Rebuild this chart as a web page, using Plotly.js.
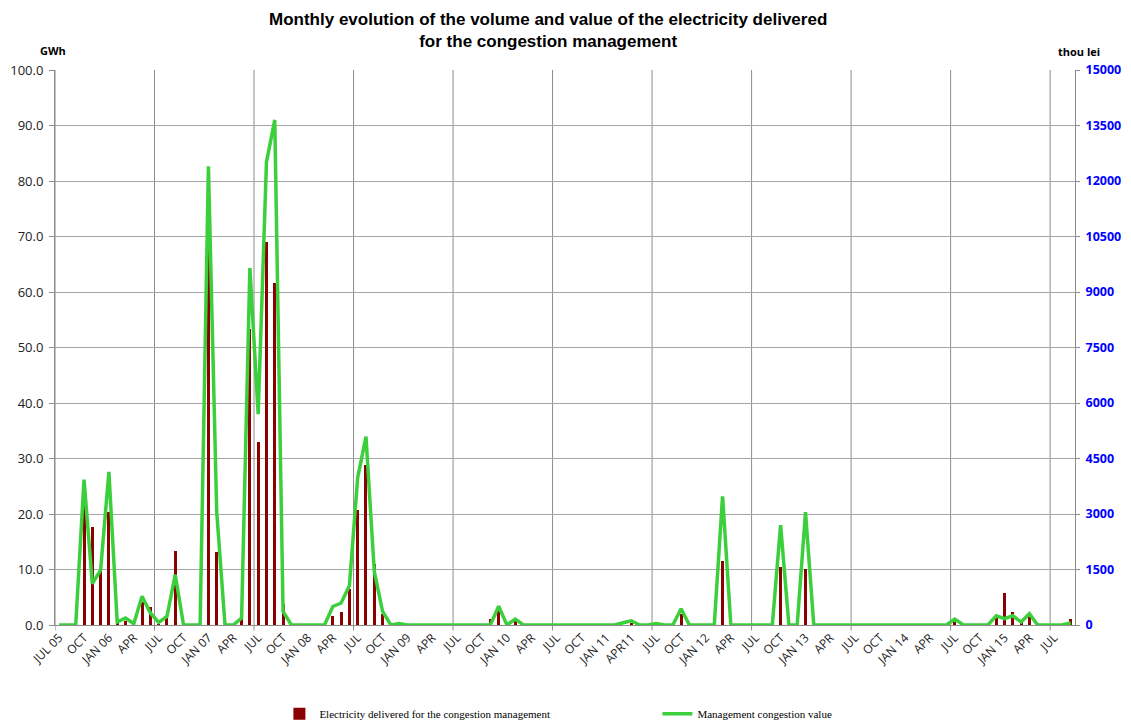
<!DOCTYPE html>
<html>
<head>
<meta charset="utf-8">
<script src="https://cdn.plot.ly/plotly-3.0.1.min.js"></script>
<style>
  html, body { margin: 0; padding: 0; background: #ffffff; }
  #chart { width: 1131px; height: 720px; }
</style>
</head>
<body>
<div id="chart"></div>
<script>
// Monthly data, July 2005 .. September 2015 (123 months)
const firstMonth = "JUL 05";
const lastMonth = "SEP 15";

// Electricity delivered for the congestion management (GWh)
const energyGWh = [
  0, 0, 0, 22.0, 17.6, 9.7,            // Jul05 - Dec05
  20.3, 0.4, 0.8, 0, 4.1, 3.2,          // Jan06 - Jun06
  0.2, 1.3, 13.4, 0, 0.1, 0,            // Jul06 - Dec06
  68.2, 13.2, 0, 0, 1.1, 53.4,          // Jan07 - Jun07
  33.0, 69.1, 61.6, 3.7, 0.1, 0,        // Jul07 - Dec07
  0.1, 0, 0, 1.7, 2.3, 6.4,             // Jan08 - Jun08
  20.8, 28.9, 11.0, 1.9, 0, 0.1,        // Jul08 - Dec08
  0, 0, 0.1, 0, 0.1, 0,                 // Jan09 - Jun09
  0, 0, 0, 0, 1.1, 2.5,                 // Jul09 - Dec09
  0, 0.8, 0, 0, 0, 0,                   // Jan10 - Jun10
  0, 0, 0, 0, 0, 0,                     // Jul10 - Dec10
  0, 0, 0, 0.3, 0, 0,                   // Jan11 - Jun11
  0, 0, 0, 1.9, 0, 0,                   // Jul11 - Dec11
  0, 0, 11.5, 0, 0, 0,                  // Jan12 - Jun12
  0, 0, 0, 10.5, 0, 0,                  // Jul12 - Dec12
  10.1, 0, 0, 0, 0, 0,                  // Jan13 - Jun13
  0, 0, 0, 0, 0, 0,                     // Jul13 - Dec13
  0, 0, 0, 0, 0, 0,                     // Jan14 - Jun14
  0.8, 0, 0.1, 0, 0, 1.4,               // Jul14 - Dec14
  5.8, 2.3, 0.6, 1.7, 0, 0.1,           // Jan15 - Jun15
  0, 0, 1.0                             // Jul15 - Sep15
];

// Management congestion value (thou lei)
const valueThouLei = [
  0, 0, 0, 3930, 1120, 1480,            // Jul05 - Dec05
  4140, 80, 190, 35, 775, 325,          // Jan06 - Jun06
  70, 230, 1360, 0, 0, 0,               // Jul06 - Dec06
  12400, 3060, 0, 0, 190, 9650,         // Jan07 - Jun07
  5700, 12510, 13650, 370, 0, 0,        // Jul07 - Dec07
  0, 0, 0, 500, 595, 1060,              // Jan08 - Jun08
  3980, 5090, 1450, 370, 0, 40,         // Jul08 - Dec08
  0, 0, 0, 0, 0, 0,                     // Jan09 - Jun09
  0, 0, 0, 0, 0, 505,                   // Jul09 - Dec09
  0, 160, 0, 0, 0, 0,                   // Jan10 - Jun10
  0, 0, 0, 0, 0, 0,                     // Jul10 - Dec10
  0, 0, 60, 115, 0, 0,                  // Jan11 - Jun11
  40, 0, 0, 440, 0, 0,                  // Jul11 - Dec11
  0, 0, 3480, 0, 0, 0,                  // Jan12 - Jun12
  0, 0, 0, 2700, 0, 0,                  // Jul12 - Dec12
  3050, 0, 0, 0, 0, 0,                  // Jan13 - Jun13
  0, 0, 0, 0, 0, 0,                     // Jul13 - Dec13
  0, 0, 0, 0, 0, 0,                     // Jan14 - Jun14
  160, 10, 0, 0, 0, 250,                // Jul14 - Dec14
  170, 250, 80, 305, 0, 0,              // Jan15 - Jun15
  0, 10, 55                             // Jul15 - Sep15
];

// Quarterly tick labels (every 3rd month starting Jul 05)
const tickLabels = [
  "JUL 05", "OCT", "JAN 06", "APR", "JUL", "OCT", "JAN 07", "APR", "JUL", "OCT",
  "JAN 08", "APR", "JUL", "OCT", "JAN 09", "APR", "JUL", "OCT", "JAN 10", "APR",
  "JUL", "OCT", "JAN 11", "APR11", "JUL", "OCT", "JAN 12", "APR", "JUL", "OCT",
  "JAN 13", "APR", "JUL", "OCT", "JAN 14", "APR", "JUL", "OCT", "JAN 15", "APR", "JUL"
];

const seriesNames = [
  "Electricity delivered for the congestion management",
  "Management congestion value"
];

const chartTitle = "Monthly evolution of the volume and value of the electricity delivered<br>for the congestion management";

// ---------- build ----------
const n = energyGWh.length;
const xIdx = energyGWh.map((_, i) => i);
const tickVals = tickLabels.map((_, k) => k * 3);

// yearly vertical gridlines at category boundaries before each JUL
const shapes = [];
for (let b = -0.5; b < n - 0.5; b += 12) {
  shapes.push({
    type: "line", xref: "x", yref: "paper",
    x0: b, x1: b, y0: -0.01, y1: 1,
    line: { color: "#8c8c8c", width: 1 },
    layer: "below"
  });
}

const traces = [
  {
    type: "bar",
    name: seriesNames[0],
    x: xIdx,
    y: energyGWh,
    width: 0.36,
    marker: { color: "#8b0000" },
    yaxis: "y",
    hoverinfo: "y"
  },
  {
    type: "scatter",
    mode: "lines",
    name: seriesNames[1],
    x: xIdx,
    y: valueThouLei,
    line: { color: "#3ccf3c", width: 3.5 },
    yaxis: "y2",
    hoverinfo: "y"
  }
];

const layout = {
  width: 1131,
  height: 720,
  paper_bgcolor: "#ffffff",
  plot_bgcolor: "#ffffff",
  margin: { l: 55, r: 56, t: 70, b: 95, autoexpand: false },
  font: { family: "Open Sans, sans-serif", color: "#222" },
  xaxis: {
    range: [-0.5, n - 0.5],
    tickmode: "array",
    tickvals: tickVals,
    ticktext: tickLabels,
    tickangle: -45,
    tickfont: { size: 12, color: "#222" },
    showgrid: false,
    zeroline: false,
    showline: true,
    linecolor: "#8c8c8c",
    linewidth: 1,
    ticks: "",
    automargin: false,
    fixedrange: true
  },
  yaxis: {
    range: [0, 100],
    dtick: 10,
    tick0: 0,
    tickformat: ".1f",
    tickfont: { size: 13, color: "#222" },
    ticklabelstandoff: 3,
    showgrid: true,
    gridcolor: "#a6a6a6",
    gridwidth: 1,
    zeroline: false,
    showline: true,
    linecolor: "#8c8c8c",
    ticks: "outside",
    ticklen: 5,
    tickcolor: "#8c8c8c",
    automargin: false,
    fixedrange: true
  },
  yaxis2: {
    range: [0, 15000],
    dtick: 1500,
    tick0: 0,
    tickformat: "d",
    overlaying: "y",
    side: "right",
    tickfont: { size: 12.5, color: "#0000ff", weight: "bold" },
    ticklabelstandoff: 3,
    showgrid: false,
    zeroline: false,
    showline: true,
    linecolor: "#8c8c8c",
    ticks: "outside",
    ticklen: 4,
    tickcolor: "#8c8c8c",
    automargin: false,
    fixedrange: true
  },
  shapes: shapes,
  annotations: [
    {
      text: chartTitle, xref: "paper", yref: "paper",
      x: (548 - 55) / 1020, y: 1 + 40 / 555, xanchor: "center", yanchor: "middle",
      align: "center", showarrow: false,
      font: { family: "Liberation Sans, Arial, sans-serif", size: 17, color: "#000", weight: "bold" }
    },
    {
      text: "GWh", xref: "paper", yref: "paper",
      x: -0.0167, y: 1.036, xanchor: "left", yanchor: "middle",
      showarrow: false,
      font: { family: "Open Sans, sans-serif", size: 11, color: "#000", weight: "bold" }
    },
    {
      text: "thou lei", xref: "paper", yref: "paper",
      x: 0.981, y: 1.0325, xanchor: "left", yanchor: "middle",
      showarrow: false,
      font: { family: "Open Sans, sans-serif", size: 11, color: "#000", weight: "bold" }
    }
  ],
  showlegend: true,
  legend: {
    orientation: "h",
    x: 0.22, xanchor: "left",
    y: -0.16, yanchor: "middle",
    entrywidth: 333, entrywidthmode: "pixels",
    font: { family: "Liberation Serif, Times New Roman, serif", size: 11, color: "#000" },
    bgcolor: "rgba(0,0,0,0)"
  },
  bargap: 0
};

Plotly.newPlot("chart", traces, layout, { displayModeBar: false, staticPlot: true });
</script>
</body>
</html>
